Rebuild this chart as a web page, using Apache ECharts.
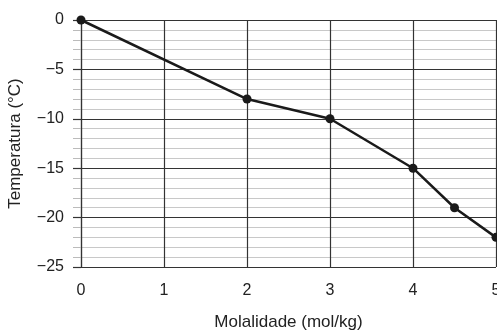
<!DOCTYPE html>
<html>
<head>
<meta charset="utf-8">
<script src="https://cdn.jsdelivr.net/npm/echarts@6/dist/echarts.min.js"></script>
<style>
  html, body { margin: 0; padding: 0; background: #fff; }
  #chart { width: 497px; height: 331px; }
</style>
</head>
<body>
<div id="chart"></div>
<script>
  // molality (mol/kg) vs temperature (°C)
  const molalidade = [0, 2, 3, 4, 4.5, 5];
  const temperatura = [0, -8, -10, -15, -19, -22];

  const minus = function (v) {
    return String(v).replace('-', '\u2212');
  };

  var myChart = echarts.init(document.getElementById('chart'));
  var option = {
    animation: false,
    textStyle: { fontFamily: 'Liberation Sans, Arial, sans-serif' },
    grid: { left: 81, right: 1, top: 20, bottom: 64, outerBoundsMode: 'none', containLabel: false },
    xAxis: {
      type: 'value',
      min: 0,
      max: 5,
      interval: 1,
      name: 'Molalidade (mol/kg)',
      nameLocation: 'middle',
      nameGap: 47,
      nameTextStyle: { color: '#222', fontSize: 17 },
      axisLine: { show: true, lineStyle: { color: '#333', width: 1.2 } },
      axisTick: { show: false },
      axisLabel: { color: '#222', fontSize: 16, margin: 16 },
      splitLine: { lineStyle: { color: '#333', width: 1.2 } }
    },
    yAxis: {
      type: 'value',
      min: -25,
      max: 0,
      interval: 5,
      name: 'Temperatura (°C)',
      nameLocation: 'middle',
      nameGap: 57,
      nameTextStyle: { color: '#222', fontSize: 17 },
      axisLine: { show: true, lineStyle: { color: '#333', width: 1.2 } },
      axisTick: { show: true, length: 8, lineStyle: { color: '#333', width: 1.2 } },
      minorTick: { show: true, splitNumber: 5, length: 8, lineStyle: { color: '#bbb' } },
      axisLabel: { color: '#222', fontSize: 16, margin: 17, formatter: minus },
      splitLine: { lineStyle: { color: '#333', width: 1.2 } },
      minorSplitLine: { show: true, lineStyle: { color: '#c8c8c8' } }
    },
    series: [
      {
        type: 'line',
        data: molalidade.map(function (x, i) { return [x, temperatura[i]]; }),
        symbol: 'circle',
        symbolSize: 9,
        clip: false,
        lineStyle: { color: '#1a1a1a', width: 2.5 },
        itemStyle: { color: '#1a1a1a' }
      }
    ]
  };
  option && myChart.setOption(option);
</script>
</body>
</html>
